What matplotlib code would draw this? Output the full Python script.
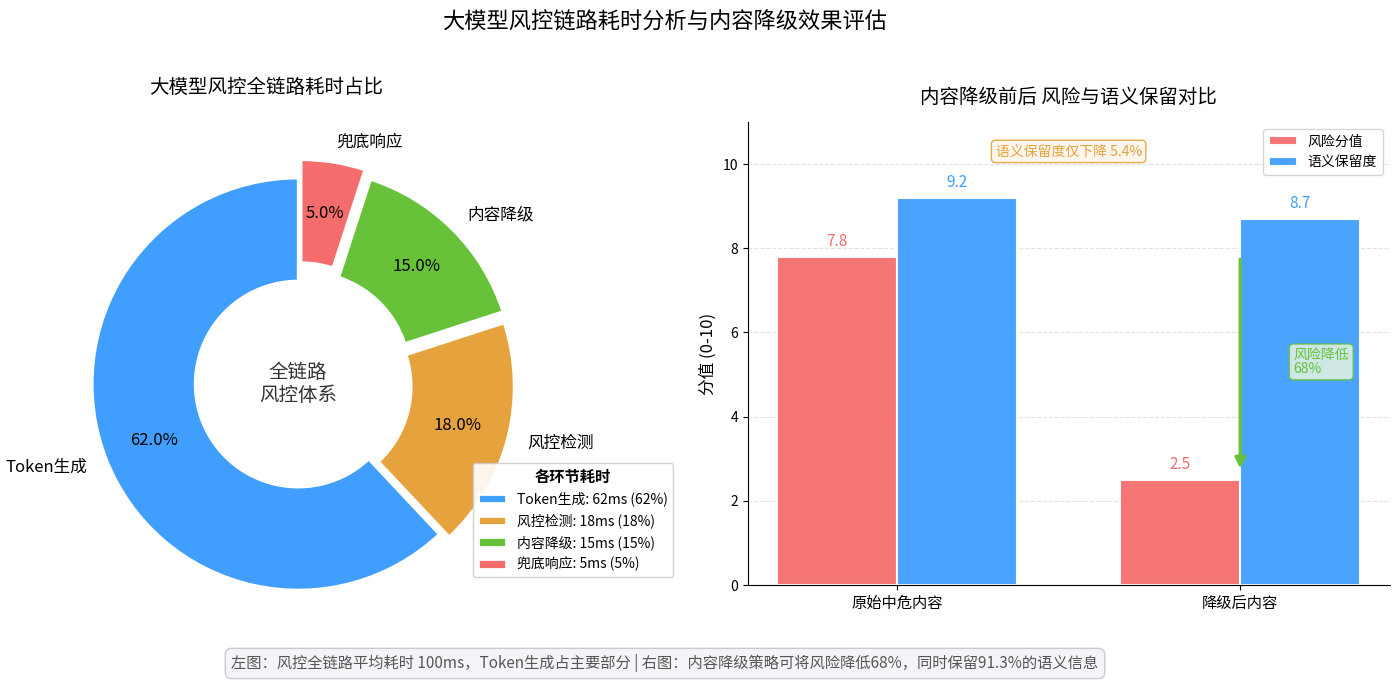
import matplotlib
matplotlib.use('Agg')
import matplotlib.pyplot as plt
import numpy as np

plt.rcParams['font.family'] = ['Noto Sans CJK SC', 'DejaVu Sans']
plt.rcParams['axes.unicode_minus'] = False

# pie data
stages = ['Token生成', '风控检测', '内容降级', '兜底响应']
stage_ms = [62, 18, 15, 5]
stage_colors = ['#409EFF', '#E6A23C', '#67C23A', '#F56C6C']
explode = [0, 0.05, 0.06, 0.09]

# bar data
content_types = ['原始中危内容', '降级后内容']
risk_scores = [7.8, 2.5]
semantic_scores = [9.2, 8.7]

RED = '#F56C6C'
BLUE = '#409EFF'
GREEN = '#67C23A'
ORANGE = '#E6A23C'

fig = plt.figure(figsize=(14, 6.84), dpi=100)
fig.suptitle('大模型风控链路耗时分析与内容降级效果评估', fontsize=16, x=0.475, y=0.985)

# ---- left: donut ----
ax1 = fig.add_axes([0.029, 0.062, 0.368, 0.753])
wedges, texts, autotexts = ax1.pie(
    stage_ms, labels=stages, colors=stage_colors, explode=explode,
    autopct='%1.1f%%', startangle=90, pctdistance=0.75, labeldistance=1.1,
    wedgeprops=dict(width=0.5, edgecolor='white', linewidth=2),
    textprops=dict(fontsize=12))
for t in autotexts:
    t.set_fontsize(12)
    t.set_color('black')
ax1.text(0, 0, '全链路\n风控体系', ha='center', va='center', fontsize=14,
         color='#333333', linespacing=1.1)
ax1.set_aspect('equal')
fig.text(0.19, 0.872, '大模型风控全链路耗时占比', ha='center', va='center', fontsize=14)

legend_labels = [f'{s}: {v}ms ({v}%)' for s, v in zip(stages, stage_ms)]
leg = ax1.legend(wedges, legend_labels, title='各环节耗时', fontsize=10,
                 title_fontproperties={'weight': 'bold', 'size': 11},
                 loc='lower right', bbox_to_anchor=(0.486, 0.146),
                 bbox_transform=fig.transFigure, framealpha=0.9)

# ---- right: bars ----
ax2 = fig.add_axes([0.534, 0.1447, 0.4586, 0.677])
x = np.arange(len(content_types))
w = 0.35
b1 = ax2.bar(x - w / 2, risk_scores, w, color=RED, label='风险分值',
             edgecolor='white', linewidth=1.5, alpha=0.95)
b2 = ax2.bar(x + w / 2, semantic_scores, w, color=BLUE, label='语义保留度',
             edgecolor='white', linewidth=1.5, alpha=0.95)
for rect, v in zip(b1, risk_scores):
    ax2.text(rect.get_x() + rect.get_width() / 2, v + 0.15, f'{v}',
             ha='center', va='bottom', fontsize=11, color=RED)
for rect, v in zip(b2, semantic_scores):
    ax2.text(rect.get_x() + rect.get_width() / 2, v + 0.15, f'{v}',
             ha='center', va='bottom', fontsize=11, color=BLUE)

ax2.set_ylim(0, 11)
ax2.set_xticks(x)
ax2.set_xticklabels(content_types, fontsize=11)
ax2.set_ylabel('分值 (0-10)', fontsize=12)
ax2.set_title('内容降级前后 风险与语义保留对比', fontsize=14, pad=14)
ax2.grid(axis='y', linestyle='--', alpha=0.35)
ax2.set_axisbelow(True)
ax2.spines['top'].set_visible(False)
ax2.spines['right'].set_visible(False)
ax2.legend(loc='upper right', fontsize=10)

ax2.annotate('', xy=(1.0, risk_scores[1] + 0.2), xytext=(1.0, risk_scores[0]),
             arrowprops=dict(arrowstyle='-|>', color=GREEN, lw=2.5, mutation_scale=15))
ax2.text(1.155, 5.3, '风险降低\n68%', fontsize=10, color=GREEN, ha='left', va='center',
         linespacing=0.95,
         bbox=dict(boxstyle='round,pad=0.3', facecolor='#e6f4e0', edgecolor=GREEN, alpha=0.85))
ax2.text(0.5, 10.3, '语义保留度仅下降 5.4%', fontsize=10, color=ORANGE, ha='center', va='center',
         bbox=dict(boxstyle='round,pad=0.3', facecolor='#fdf6ec', edgecolor=ORANGE, alpha=0.9))

fig.text(0.475, 0.03, '左图：风控全链路平均耗时 100ms，Token生成占主要部分 | 右图：内容降级策略可将风险降低68%，同时保留91.3%的语义信息',
         ha='center', va='center', fontsize=11, color='#555555',
         bbox=dict(boxstyle='round,pad=0.4', facecolor='#f4f5f9', edgecolor='#c8cbd4'))

fig.savefig('out.png', dpi=100)
